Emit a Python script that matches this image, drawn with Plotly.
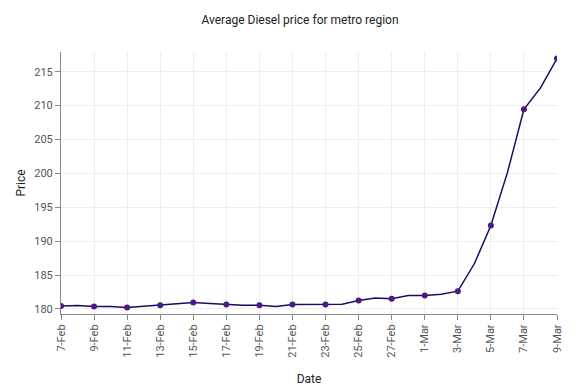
import plotly.graph_objects as go
import pandas as pd

dates = pd.date_range("2022-02-07", "2022-03-09", freq="D")
prices = [180.44, 180.5, 180.35, 180.35, 180.2, 180.4, 180.55, 180.8, 180.94, 180.8,
          180.64, 180.55, 180.55, 180.35, 180.64, 180.64, 180.64, 180.7, 181.23, 181.6,
          181.5, 181.97, 181.97, 182.17, 182.62, 186.66, 192.3, 200.1, 209.44, 212.6, 216.94]

marker_dates = dates[::2]
marker_prices = prices[::2]

fig = go.Figure()
fig.add_trace(go.Scatter(x=dates, y=prices, mode="lines",
                         line=dict(color="#1b0b5e", width=1.5), showlegend=False))
fig.add_trace(go.Scatter(x=marker_dates, y=marker_prices, mode="markers",
                         marker=dict(color="#4a1a86", size=6), showlegend=False))

fig.update_layout(
    width=584, height=389,
    template="plotly_white",
    font=dict(family="Roboto", size=11, color="#555"),
    title=dict(text="Average Diesel price for metro region", x=0.5, xanchor="center",
               y=0.97, yanchor="middle", font=dict(size=12, color="#222")),
    margin=dict(l=53, r=35, t=44, b=83),
    xaxis=dict(title=dict(text="Date", font=dict(size=12, color="#222"), standoff=17),
               type="date", tickformat="%-d-%b", dtick=2*86400000, tick0="2022-02-07",
               tickangle=-90, range=["2022-02-07", "2022-03-09"], automargin=False,
               showline=True, linecolor="#888", ticks="outside", ticklen=5, tickcolor="#888",
               gridcolor="#eee", showgrid=True, zeroline=False),
    yaxis=dict(title=dict(text="Price", font=dict(size=12, color="#222"), standoff=6),
               range=[179.25, 217.9], dtick=5, automargin=False,
               showline=True, linecolor="#888", ticks="outside", ticklen=5, tickcolor="#888",
               gridcolor="#eee", zeroline=False),
)

fig.write_html("out.html")
